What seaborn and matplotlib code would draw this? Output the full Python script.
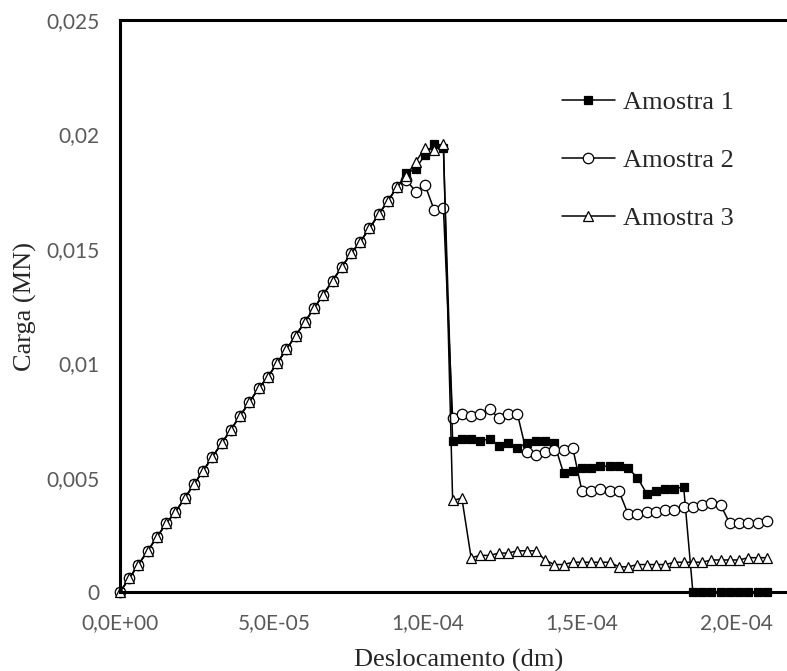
import numpy as np
import matplotlib
matplotlib.use("Agg")
import matplotlib.pyplot as plt
from matplotlib.ticker import FuncFormatter, MultipleLocator
from matplotlib.font_manager import FontProperties
import seaborn as sns

sns.set_style("white")

# deslocamento em passos de 3E-06 dm (71 leituras)
deslocamento = np.arange(71) * 3e-6

# trecho linear comum as tres amostras (leituras 0 a 30)
rampa = [0, 0.0006, 0.0012, 0.0018, 0.0024, 0.0030, 0.0035, 0.0041, 0.0047, 0.0053,
         0.0059, 0.0065, 0.0071, 0.0077, 0.0083, 0.0089, 0.0094, 0.0100, 0.0106, 0.0112,
         0.0118, 0.0124, 0.0130, 0.0136, 0.0142, 0.0148, 0.0153, 0.0159, 0.0165, 0.0171,
         0.0177]

amostra1 = rampa + [0.0183, 0.0185, 0.0191, 0.0196, 0.0194,
                    0.0066, 0.0067, 0.0067, 0.0066, 0.0067, 0.0064, 0.0065, 0.0063, 0.0065,
                    0.0066, 0.0066, 0.0065, 0.0052, 0.0053, 0.0054, 0.0054, 0.0055, 0.0055,
                    0.0055, 0.0054, 0.0050, 0.0043, 0.0044, 0.0045, 0.0045, 0.0046,
                    0, 0, 0, 0, 0, 0, 0, 0, 0]

amostra2 = rampa + [0.0180, 0.0175, 0.0178, 0.0167, 0.0168,
                    0.0076, 0.0078, 0.0077, 0.0078, 0.0080, 0.0076, 0.0078, 0.0078, 0.0061,
                    0.0060, 0.0061, 0.0062, 0.0062, 0.0063, 0.0044, 0.0044, 0.0045, 0.0044,
                    0.0044, 0.0034, 0.0034, 0.0035, 0.0035, 0.0036, 0.0036, 0.0037, 0.0037,
                    0.0038, 0.0039, 0.0038, 0.0030, 0.0030, 0.0030, 0.0030, 0.0031]

amostra3 = rampa + [0.0182, 0.0188, 0.0194, 0.0193, 0.0196,
                    0.0040, 0.0041, 0.0015, 0.0016, 0.0016, 0.0017, 0.0017, 0.0018, 0.0018,
                    0.0018, 0.0014, 0.0012, 0.0012, 0.0013, 0.0013, 0.0013, 0.0013, 0.0013,
                    0.0011, 0.0011, 0.0012, 0.0012, 0.0012, 0.0012, 0.0013, 0.0013, 0.0013,
                    0.0013, 0.0014, 0.0014, 0.0014, 0.0014, 0.0015, 0.0015, 0.0015]

series = [
    ("Amostra 1", amostra1, dict(marker="s", markerfacecolor="black", markersize=6)),
    ("Amostra 2", amostra2, dict(marker="o", markerfacecolor="white", markersize=7.5)),
    ("Amostra 3", amostra3, dict(marker="^", markerfacecolor="white", markersize=7.5)),
]

fig = plt.figure(figsize=(7.87, 6.71), dpi=100)
ax = fig.add_axes([120 / 787, 1 - 592 / 671, 667 / 787, 572 / 671])

for nome, carga, estilo in series:
    sns.lineplot(x=deslocamento, y=carga, ax=ax, color="black", linewidth=1.1,
                 markeredgecolor="black", markeredgewidth=0.9, label=nome,
                 sort=False, clip_on=False, **estilo)

ax.set_xlim(0, 2.1656e-4)
ax.set_ylim(0, 0.025)
ax.xaxis.set_major_locator(MultipleLocator(5e-5))
ax.yaxis.set_major_locator(MultipleLocator(0.005))
ax.xaxis.set_major_formatter(FuncFormatter(lambda v, p: f"{v:.1E}".replace(".", ",")))
ax.yaxis.set_major_formatter(FuncFormatter(lambda v, p: f"{round(v, 4):g}".replace(".", ",")))

ax.tick_params(axis="both", direction="in", length=5, width=2, color="black",
               labelsize=15, labelcolor="#595959", pad=15)
for lbl in ax.get_xticklabels() + ax.get_yticklabels():
    lbl.set_fontfamily("Lato")

for lado in ["left", "bottom", "top"]:
    ax.spines[lado].set_linewidth(2.2)
    ax.spines[lado].set_color("black")
ax.spines["right"].set_visible(False)

fonte = FontProperties(family="Liberation Serif", size=19)
ax.set_xlabel("Deslocamento (dm)", fontproperties=fonte)
ax.set_ylabel("Carga (MN)", fontproperties=fonte)
ax.xaxis.set_label_coords(0.507, -0.100)
ax.yaxis.set_label_coords(-0.124, 0.5)

handles, labels = ax.get_legend_handles_labels()
ax.legend(handles, labels, loc="upper left", bbox_to_anchor=(562 / 787, 1 - 91 / 671),
          bbox_transform=fig.transFigure, frameon=False, prop=fonte,
          handlelength=2.0, handletextpad=0.3, labelspacing=1.3,
          borderpad=0, borderaxespad=0)

fig.savefig("out.png", dpi=100)
